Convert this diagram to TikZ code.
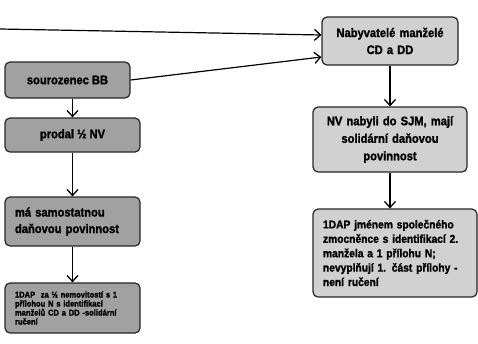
\documentclass[tikz,border=0pt]{standalone}
\usepackage{fontspec}
\newfontfamily\boxfont{Liberation Sans}[UprightFont={* Bold}, FakeStretch=0.9, FakeBold=1.5]
\usepackage{tikz}
\usetikzlibrary{arrows.meta}

\tikzset{
  box/.style={draw=black!85, line width=1.2pt, rounded corners=5pt, inner ysep=3pt, inner xsep=10pt},
  darkbox/.style={box, fill=black!37},
  lightbox/.style={box, fill=black!18},
  flow/.style={line width=1.2pt, -{Straight Barb[length=6pt,width=11pt,line width=1.3pt]}}
}

\begin{document}
\begin{tikzpicture}[x=1pt,y=-1pt]
  \useasboundingbox (0,0) rectangle (478,343);

  % Nodes

  \node[darkbox, minimum width=125pt, minimum height=36pt, font=\boxfont\fontsize{12.4}{14}\selectfont] (sibling) at (67.5,80) {sourozenec BB}; %
  \node[darkbox, minimum width=135pt, minimum height=34pt, font=\boxfont\fontsize{12.4}{14}\selectfont] (sold) at (72.5,135) {prodal ½ NV}; %
  \node[darkbox, minimum width=135pt, minimum height=49pt, text width=115pt, align=left, font=\boxfont\fontsize{12.4}{16.5}\selectfont] (owntax) at (72.5,221.5) {má samostatnou\\daňovou povinnost}; %
  \node[darkbox, minimum width=135pt, minimum height=50pt, text width=115pt, align=left, font=\boxfont\fontsize{8.4}{9}\selectfont] (dapleft) at (72.5,308) {1DAP\ \ za ½ nemovitostí s 1\\přílohou N s identifikací\\manželů CD a DD -solidární\\ručení}; %

  \node[lightbox, minimum width=136pt, minimum height=48pt, text width=116pt, align=center, font=\boxfont\fontsize{12.4}{17}\selectfont] (buyers) at (390,41) {Nabyvatelé manželé\\CD a DD}; %
  \node[lightbox, minimum width=154pt, minimum height=65pt, text width=134pt, align=center, font=\boxfont\fontsize{12.4}{17.5}\selectfont] (joint) at (390,139.5) {NV nabyli do SJM, mají\\solidární daňovou\\povinnost}; %
  \node[lightbox, minimum width=164pt, minimum height=88pt, text width=144pt, align=left, font=\boxfont\fontsize{11.4}{14.4}\selectfont] (dapright) at (395,253) {1DAP jménem společného\\zmocněnce s identifikací 2.\\manžela a 1 přílohu N;\\nevyplňují 1. část přílohy -\\není ručení}; %

  \coordinate (outside) at (0,29);

  % Edges
  \draw[flow] (outside) -- ([yshift=6pt]buyers.west);
  \draw[flow] (sibling.east) -- ([yshift=-16pt]buyers.west);
  \draw[flow] (sold.north |- sibling.south) -- (sold.north);
  \draw[flow] (sold.south) -- (owntax.north);
  \draw[flow] (owntax.south) -- (dapleft.north);
  \draw[flow] (buyers.south) -- (joint.north);
  \draw[flow] (joint.south) -- (joint.south |- dapright.north);
\end{tikzpicture}
\end{document}
